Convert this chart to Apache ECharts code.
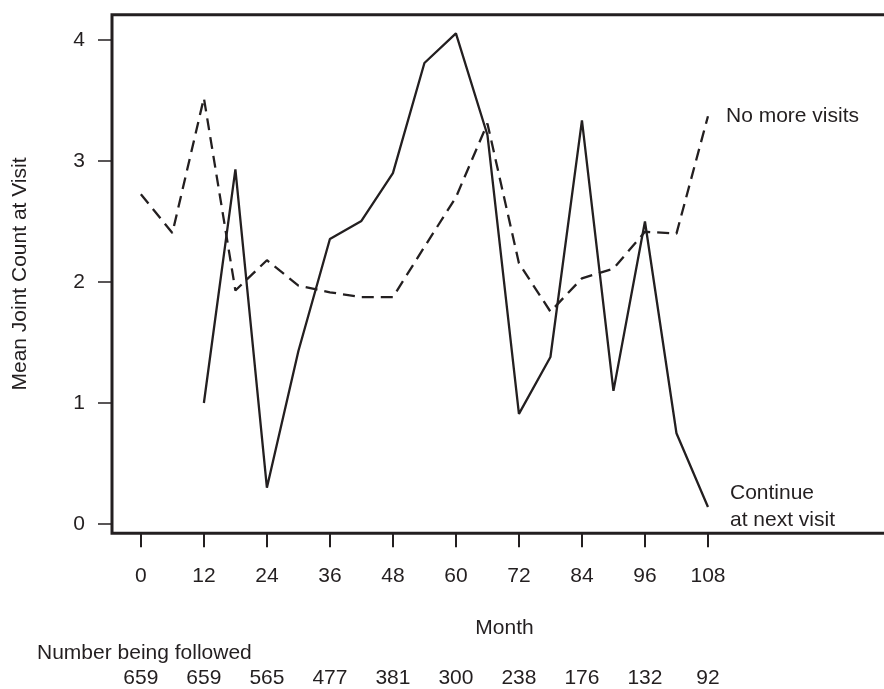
<!DOCTYPE html>
<html>
<head>
<meta charset="utf-8">
<script src="https://cdn.jsdelivr.net/npm/echarts@6/dist/echarts.min.js"></script>
<style>
  html, body { margin: 0; padding: 0; background: #fff; }
  #chart { width: 884px; height: 689px; }
</style>
</head>
<body>
<div id="chart"></div>
<script>
// months of follow-up
const months = [0, 6, 12, 18, 24, 30, 36, 42, 48, 54, 60, 66, 72, 78, 84, 90, 96, 102, 108];
// mean joint count, solid line (null = no data)
const continueVisit = [null, null, 1.0, 2.93, 0.30, 1.43, 2.355, 2.505, 2.90, 3.81, 4.055, 3.215, 0.91, 1.38, 3.335, 1.10, 2.50, 0.75, 0.14];
// mean joint count, dashed line
const noMoreVisits = [2.725, 2.405, 3.52, 1.93, 2.18, 1.97, 1.915, 1.875, 1.875, 2.29, 2.70, 3.31, 2.155, 1.755, 2.03, 2.11, 2.415, 2.40, 3.37];

const monthTicks = [0, 12, 24, 36, 48, 60, 72, 84, 96, 108];
const countTicks = [0, 1, 2, 3, 4];
const numberFollowed = [659, 659, 565, 477, 381, 300, 238, 176, 132, 92];

const seriesNames = ['Continue\nat next visit', 'No more visits'];

const ink = '#231f20';
const fontFamily = '"Liberation Sans", Arial, Helvetica, sans-serif';
const fontSize = 21;

function toPairs(values) {
  const out = [];
  months.forEach((m, i) => { out.push([m, values[i]]); });
  return out;
}

let myChart = echarts.init(document.getElementById('chart'));

let option = {
  animation: false,
  textStyle: { fontFamily: fontFamily, color: ink },
  grid: {
    left: 112,
    top: 14.7,
    width: 785,
    height: 518.6,
    containLabel: false,
    outerBoundsMode: 'none',
    show: true,
    borderColor: ink,
    borderWidth: 3,
    backgroundColor: 'transparent'
  },
  xAxis: [{
    type: 'value',
    min: -5.5,
    max: 144,
    name: 'Month',
    nameLocation: 'middle',
    nameGap: 84,
    nameTextStyle: { fontSize: fontSize, color: ink, fontFamily: fontFamily },
    axisLine: { show: false, onZero: false },
    splitLine: { show: false },
    axisTick: {
      show: true,
      length: 14,
      customValues: monthTicks,
      lineStyle: { color: ink, width: 2 }
    },
    axisLabel: {
      customValues: monthTicks,
      margin: 32,
      fontSize: fontSize,
      color: ink,
      fontFamily: fontFamily
    }
  }, {
    type: 'value',
    position: 'bottom',
    offset: 120,
    min: -5.5,
    max: 144,
    axisLine: { show: false, onZero: false },
    splitLine: { show: false },
    axisTick: { show: false },
    axisLabel: {
      customValues: monthTicks,
      margin: 14,
      fontSize: fontSize,
      color: ink,
      fontFamily: fontFamily,
      formatter: function (v) {
        const i = monthTicks.indexOf(v);
        return i >= 0 ? String(numberFollowed[i]) : '';
      }
    }
  }],
  yAxis: {
    type: 'value',
    min: -0.077,
    max: 4.209,
    name: 'Mean Joint Count at Visit',
    nameLocation: 'middle',
    nameGap: 81,
    nameTextStyle: { fontSize: fontSize, color: ink, fontFamily: fontFamily },
    axisLine: { show: false, onZero: false },
    splitLine: { show: false },
    axisTick: {
      show: true,
      length: 14,
      customValues: countTicks,
      lineStyle: { color: ink, width: 1.5 }
    },
    axisLabel: {
      customValues: countTicks,
      margin: 27,
      fontSize: fontSize,
      color: ink,
      fontFamily: fontFamily
    }
  },
  graphic: [{
    type: 'text',
    left: 37,
    top: 643,
    style: {
      text: 'Number being followed',
      font: fontSize + 'px ' + fontFamily,
      fill: ink
    }
  }],
  series: [{
    name: seriesNames[0],
    type: 'line',
    xAxisIndex: 0,
    showSymbol: false,
    symbol: 'none',
    connectNulls: false,
    lineStyle: { color: ink, width: 2.3, type: 'solid' },
    endLabel: {
      show: true,
      formatter: seriesNames[0],
      distance: 22,
      fontSize: fontSize,
      lineHeight: 27,
      color: ink,
      fontFamily: fontFamily,
      align: 'left'
    },
    data: toPairs(continueVisit)
  }, {
    name: seriesNames[1],
    type: 'line',
    xAxisIndex: 0,
    showSymbol: false,
    symbol: 'none',
    lineStyle: { color: ink, width: 2.3, type: [12, 7] },
    endLabel: {
      show: true,
      formatter: seriesNames[1],
      distance: 18,
      fontSize: fontSize,
      color: ink,
      fontFamily: fontFamily
    },
    data: toPairs(noMoreVisits)
  }]
};

myChart.setOption(option);
</script>
</body>
</html>
